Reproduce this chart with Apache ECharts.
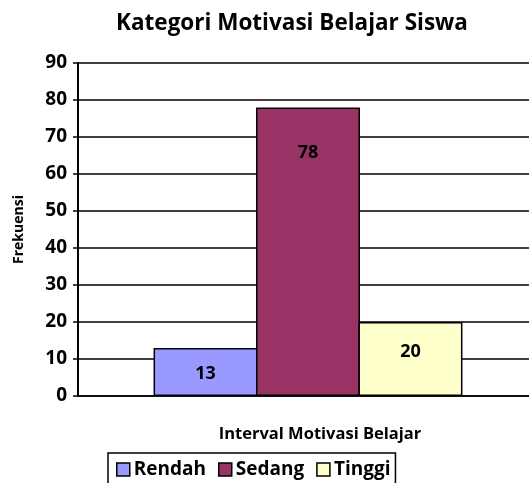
<!DOCTYPE html>
<html><head><meta charset="utf-8">
<script src="https://cdn.jsdelivr.net/npm/echarts@6/dist/echarts.min.js"></script>
<style>html,body{margin:0;padding:0;background:#fff}#c{width:529px;height:483px}</style>
</head><body><div id="c"></div>
<script>
const categories = [''];
const seriesNames = ['Rendah', 'Sedang', 'Tinggi'];
const seriesValues = [[13], [78], [20]];
const colors = ['#9999FF', '#993366', '#FFFFCC'];
const labelDist = [17, 36, 21];
const yTicks = [0, 10, 20, 30, 40, 50, 60, 70, 80, 90];

const font = '"Open Sans", "Liberation Sans", sans-serif';
const chart = echarts.init(document.getElementById('c'));
chart.setOption({
  animation: false,
  title: { text: 'Kategori Motivasi Belajar Siswa', left: 287, top: 7, textAlign: 'center',
    textStyle: { fontFamily: font, fontWeight: 'bold', fontSize: 22.5, color: '#000' } },
  grid: { left: 78, right: -9, top: 63, bottom: 87, outerBoundsMode: 'none', containLabel: false },
  legend: {
    data: seriesNames, top: 453, left: 108,
    borderColor: '#000', borderWidth: 1.5, padding: [7, 5, 8, 8],
    itemWidth: 13, itemHeight: 13, itemGap: 12,
    icon: 'rect',
    itemStyle: { borderColor: '#000', borderWidth: 1.5 },
    textStyle: { fontFamily: font, fontWeight: 'bold', fontSize: 19, color: '#000', padding: [0, 0, 0, -1] }
  },
  xAxis: {
    type: 'category', data: categories,
    name: 'Interval Motivasi Belajar', nameLocation: 'middle', nameGap: 30,
    nameTextStyle: { fontFamily: font, fontWeight: 'bold', fontSize: 16.5, color: '#000', padding: [0, 0, 0, 24] },
    axisLine: { lineStyle: { color: '#000', width: 1.5 } },
    axisTick: { show: false }, axisLabel: { show: false }
  },
  yAxis: {
    type: 'value', min: 0, max: 90, interval: 10,
    name: 'Frekuensi', nameLocation: 'middle', nameGap: 52,
    nameTextStyle: { fontFamily: font, fontWeight: 'bold', fontSize: 14, color: '#000' },
    axisLine: { show: true, lineStyle: { color: '#000', width: 2 } },
    axisTick: { show: true, length: 5, lineStyle: { color: '#000', width: 1.5 } },
    axisLabel: { fontFamily: font, fontWeight: 'bold', fontSize: 19, color: '#000', margin: 11,
      formatter: v => yTicks.includes(v) ? String(v) : '' },
    splitLine: { lineStyle: { color: '#000', width: 1.5 } }
  },
  series: seriesNames.map((n, i) => ({
    name: n, type: 'bar', data: seriesValues[i],
    barWidth: 104, barGap: '-1.5%',
    itemStyle: { color: colors[i], borderColor: '#000', borderWidth: 1.5 },
    label: { show: true, position: 'insideTop', distance: labelDist[i],
      fontFamily: font, fontWeight: 'bold', fontSize: 18, color: '#000' }
  }))
});
</script></body></html>
